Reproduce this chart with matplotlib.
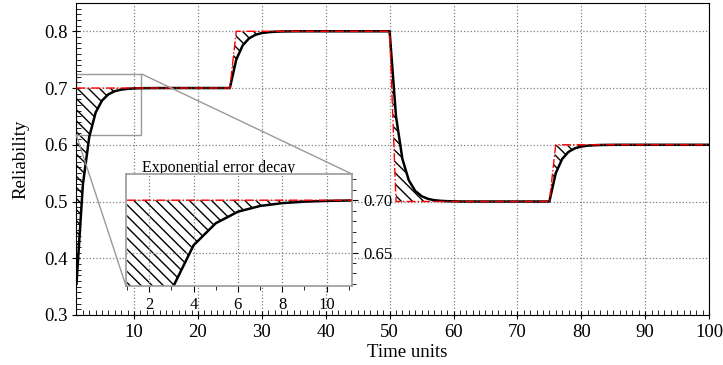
import numpy as np
import matplotlib
matplotlib.use("Agg")
import matplotlib.pyplot as plt
from matplotlib.ticker import MultipleLocator, FormatStrFormatter
from mpl_toolkits.axes_grid1.inset_locator import mark_inset

plt.rcParams['font.family'] = 'serif'
plt.rcParams['font.serif'] = ['Liberation Serif', 'DejaVu Serif']

# time axis
time = np.arange(1, 101)

# target reliability levels, one per block of 25 time units
step_levels = [0.7, 0.8, 0.5, 0.6]
step_len = 25

reliability = [
    0.355, 0.53, 0.614, 0.657, 0.678, 0.689, 0.6945, 0.6972, 0.6986, 0.6993,
    0.6997, 0.6998, 0.6999, 0.7, 0.7, 0.7, 0.7, 0.7, 0.7, 0.7,
    0.7, 0.7, 0.7, 0.7, 0.7,
    0.75, 0.775, 0.7875, 0.7938, 0.7969, 0.7984, 0.7992, 0.7996, 0.7998, 0.7999,
    0.8, 0.8, 0.8, 0.8, 0.8, 0.8, 0.8, 0.8, 0.8, 0.8,
    0.8, 0.8, 0.8, 0.8, 0.8,
    0.65, 0.575, 0.5375, 0.5188, 0.5094, 0.5047, 0.5023, 0.5012, 0.5006, 0.5003,
    0.5001, 0.5, 0.5, 0.5, 0.5, 0.5, 0.5, 0.5, 0.5, 0.5,
    0.5, 0.5, 0.5, 0.5, 0.5,
    0.55, 0.575, 0.5875, 0.5938, 0.5969, 0.5984, 0.5992, 0.5996, 0.5998, 0.5999,
    0.6, 0.6, 0.6, 0.6, 0.6, 0.6, 0.6, 0.6, 0.6, 0.6,
    0.6, 0.6, 0.6, 0.6, 0.6,
]

target = np.repeat(step_levels, step_len)
reliability = np.array(reliability)


def draw(a):
    a.fill_between(time, reliability, target, facecolor='none', edgecolor='black',
                   hatch='\\\\\\', linewidth=0.0, zorder=1)
    a.plot(time, reliability, color='black', lw=1.8, zorder=2)
    a.plot(time, target, color='red', lw=1.0, ls='-.', zorder=3)


fig = plt.figure(figsize=(7.23, 3.65), dpi=100)
ax = fig.add_axes([0.1058, 0.137, 0.875, 0.855])
draw(ax)
ax.set_xlim(1, 100)
ax.set_ylim(0.3, 0.85)
ax.xaxis.set_major_locator(MultipleLocator(10))
ax.xaxis.set_minor_locator(MultipleLocator(1))
ax.yaxis.set_major_locator(MultipleLocator(0.1))
ax.yaxis.set_minor_locator(MultipleLocator(0.01))
ax.tick_params(which='major', direction='inout', length=6, labelsize=13.5)
ax.tick_params(which='minor', direction='in', length=3.5)
ax.grid(True, ls=':', color='0.5', lw=0.9)
ax.set_xlabel('Time units', fontsize=13.5)
ax.set_ylabel('Reliability', fontsize=13.5)
ax.xaxis.set_label_coords(0.522, -0.092)
ax.yaxis.set_label_coords(-0.075, 0.5)

# zoomed view of the first transient
axins = fig.add_axes([0.1743, 0.2164, 0.3126, 0.3068])
draw(axins)
axins.set_xlim(0.95, 11.15)
axins.set_ylim(0.618, 0.725)
axins.xaxis.set_major_locator(MultipleLocator(2))
axins.xaxis.set_minor_locator(MultipleLocator(1))
axins.yaxis.set_major_locator(MultipleLocator(0.05))
axins.yaxis.set_minor_locator(MultipleLocator(0.01))
axins.yaxis.set_major_formatter(FormatStrFormatter('%.2f'))
axins.yaxis.tick_right()
axins.tick_params(which='major', direction='out', length=4.5, labelsize=12)
axins.tick_params(which='minor', direction='out', length=3)
axins.grid(True, ls=':', color='0.5', lw=0.9)
for s in axins.spines.values():
    s.set_color('0.6')
    s.set_linewidth(1.2)

mark_inset(ax, axins, loc1=1, loc2=3, fc='none', ec='0.6', lw=1.0)

# title sits in the main axes so the inset box hides its descenders
ax.text(219 / 723, 0.5288, 'Exponential error decay', transform=fig.transFigure,
        ha='center', va='baseline', fontsize=11.5, clip_on=False)

plt.savefig('out.png', dpi=100)
